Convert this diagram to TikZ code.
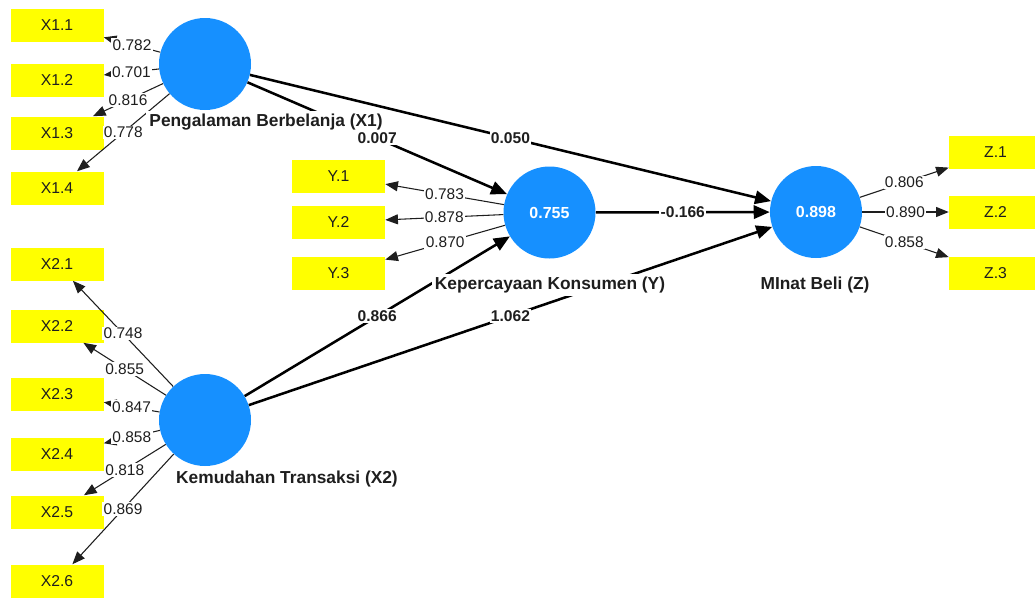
\documentclass[tikz,border=0pt]{standalone}
\usepackage{fontspec}
\setmainfont{Liberation Sans}
\usetikzlibrary{arrows.meta}
\definecolor{plsblue}{RGB}{22,144,255}
\definecolor{boxyellow}{RGB}{255,255,0}
\definecolor{txt}{RGB}{30,30,30}
\begin{document}
\begin{tikzpicture}[x=0.75pt,y=-0.75pt,
 lv/.style={circle,fill=plsblue,inner sep=0pt,minimum size=69pt,text=white,font=\bfseries\fontsize{12}{14}\selectfont},
 ind/.style={rectangle,fill=boxyellow,inner sep=0pt,minimum width=69.75pt,minimum height=24.75pt,font=\fontsize{11.8}{13}\selectfont,text=txt},
 lvlabel/.style={fill=white,inner sep=2.5pt,font=\bfseries\fontsize{13}{15}\selectfont,text=txt},
 load/.style={draw=txt,line width=0.8pt,-{Triangle[length=9.5pt,width=7.5pt]}},
 struct/.style={draw=black,line width=1.9pt,-{Triangle[length=12pt,width=10pt]}},
 loadlab/.style={pos=0.5,fill=white,inner sep=1pt,font=\fontsize{11.6}{13}\selectfont,text=txt},
 coeflab/.style={pos=0.5,fill=white,inner sep=1pt,font=\bfseries\fontsize{11.7}{13}\selectfont,text=txt},
]
\useasboundingbox (0,0) rectangle (1035,597);
\clip (0,0) rectangle (1035,597);

% latent variables
\node[lv] (X1) at (205,64) {};
\node[lv] (X2) at (205,420) {};
\node[lv] (Y) at (549.5,212.5) {0.755};
\node[lv] (Z) at (816,212) {0.898};

% indicators
\node[ind] (x11) at (57,25) {X1.1};
\node[ind] (x12) at (57,80) {X1.2};
\node[ind] (x13) at (57,133) {X1.3};
\node[ind] (x14) at (57,188) {X1.4};
\node[ind] (x21) at (57,264) {X2.1};
\node[ind] (x22) at (57,326) {X2.2};
\node[ind] (x23) at (57,394) {X2.3};
\node[ind] (x24) at (57,454) {X2.4};
\node[ind] (x25) at (57,512) {X2.5};
\node[ind] (x26) at (57,581) {X2.6};
\node[ind] (y1) at (338.5,176) {Y.1};
\node[ind] (y2) at (338.5,222) {Y.2};
\node[ind] (y3) at (338.5,273) {Y.3};
\node[ind] (z1) at (995.5,152) {Z.1};
\node[ind] (z2) at (995.5,212) {Z.2};
\node[ind] (z3) at (995.5,273) {Z.3};

% loadings
\draw[load] (X1) -- (x11);
\draw[load] (X1) -- (x12);
\draw[load] (X1) -- (x13);
\draw[load] (X1) -- (x14);
\draw[load] (X2) -- (x21);
\draw[load] (X2) -- (x22);
\draw[load] (X2) -- (x23);
\draw[load] (X2) -- (x24);
\draw[load] (X2) -- (x25);
\draw[load] (X2) -- (x26);
\draw[load] (Y) -- (y1);
\draw[load] (Y) -- (y2);
\draw[load] (Y) -- (y3);
\draw[load] (Z) -- (z1);
\draw[load] (Z) -- (z2);
\draw[load] (Z) -- (z3);

% structural paths
\draw[struct] (X1) -- (Y);
\draw[struct] (X1) -- (Z);
\draw[struct] (Y) -- (Z);
\draw[struct] (X2) -- (Y);
\draw[struct] (X2) -- (Z);

% latent labels
\node[lvlabel] (lx1) at (266,122) {Pengalaman Berbelanja (X1)};
\node[lvlabel] (lx2) at (287,479) {Kemudahan Transaksi (X2)};
\node[lvlabel] (ly) at (550,285) {Kepercayaan Konsumen (Y)};
\node[lvlabel] (lz) at (815,285) {MInat Beli (Z)};

% loading labels
\path (X1) -- (x11) node[loadlab] {0.782};
\path (X1) -- (x12) node[loadlab] {0.701};
\path (X1) -- (x13) node[loadlab] {0.816};
\path (X1) -- (x14) node[loadlab] {0.778};
\path (X2) -- (x21) node[loadlab] {0.748};
\path (X2) -- (x22) node[loadlab] {0.855};
\path (X2) -- (x23) node[loadlab] {0.847};
\path (X2) -- (x24) node[loadlab] {0.858};
\path (X2) -- (x25) node[loadlab] {0.818};
\path (X2) -- (x26) node[loadlab] {0.869};
\path (Y) -- (y1) node[loadlab] {0.783};
\path (Y) -- (y2) node[loadlab] {0.878};
\path (Y) -- (y3) node[loadlab] {0.870};
\path (Z) -- (z1) node[loadlab] {0.806};
\path (Z) -- (z2) node[loadlab] {0.890};
\path (Z) -- (z3) node[loadlab] {0.858};

% path coefficients
\path (X1) -- (Y) node[coeflab] {0.007};
\path (X1) -- (Z) node[coeflab] {0.050};
\path (Y) -- (Z) node[coeflab] {-0.166};
\path (X2) -- (Y) node[coeflab] {0.866};
\path (X2) -- (Z) node[coeflab] {1.062};
\end{tikzpicture}
\end{document}
